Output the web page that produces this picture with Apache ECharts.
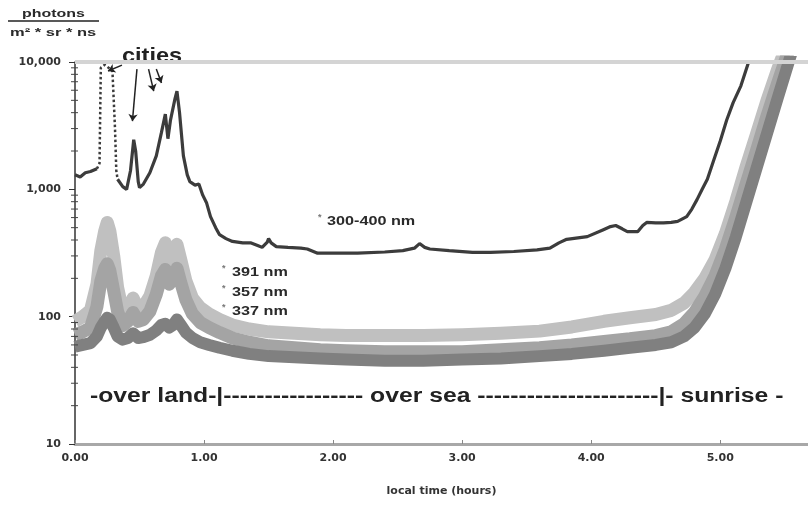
<!DOCTYPE html>
<html lang="en">
<head>
<meta charset="UTF-8">
<title>photons</title>
<script src="https://cdn.jsdelivr.net/npm/echarts@6/dist/echarts.min.js"></script>
<style>html,body{margin:0;padding:0;background:#fff;}</style>
</head>
<body>
<div id="main" style="width:808px;height:508px;"></div>
<script type="text/javascript">
    // time grid (hours) shared by the three narrow-band channels
    var tBand = [0.00, 0.06, 0.12, 0.17, 0.20, 0.23, 0.25, 0.27, 0.30, 0.33, 0.37, 0.41, 0.45, 0.49, 0.53, 0.58,
        0.63, 0.67, 0.70, 0.73, 0.76, 0.79, 0.82, 0.86, 0.91, 0.97, 1.04, 1.12, 1.22, 1.35, 1.50, 1.70, 1.90,
        2.10, 2.40, 2.70, 3.00, 3.30, 3.60, 3.85, 4.10, 4.30, 4.50, 4.62, 4.72, 4.80, 4.88, 4.96, 5.04, 5.12,
        5.20, 5.28, 5.36, 5.44, 5.52, 5.60];
    var v391 = [92, 100, 112, 180, 330, 470, 550, 470, 300, 170, 110, 115, 140, 115, 120, 145,
        210, 320, 380, 280, 300, 370, 280, 190, 140, 118, 105, 95, 86, 80, 76, 74, 72,
        71, 71, 71, 72, 74, 77, 83, 92, 98, 104, 112, 128, 155, 200, 280, 450, 800,
        1500, 2700, 4900, 8500, 14000, 25000];
    var v357 = [72, 76, 82, 120, 190, 240, 260, 230, 160, 110, 85, 92, 108, 92, 95, 110,
        150, 210, 235, 180, 200, 240, 185, 135, 105, 90, 82, 75, 68, 63, 59, 57, 55,
        54, 53, 53, 53, 55, 57, 60, 64, 67, 71, 76, 88, 108, 145, 210, 340, 600,
        1100, 2000, 3700, 6600, 11500, 20000];
    var v337 = [58, 60, 62, 70, 82, 92, 98, 95, 82, 70, 66, 68, 74, 68, 69, 72,
        78, 86, 88, 82, 86, 95, 86, 75, 68, 63, 60, 57, 54, 51, 49, 48, 47,
        46, 45, 45, 46, 47, 49, 51, 54, 57, 60, 63, 70, 82, 105, 150, 240, 420,
        780, 1450, 2700, 5000, 9200, 17000];

    // 300-400 nm broad band (null = gap where only sparse points exist)
    var tMain = [0.00, 0.04, 0.08, 0.12, 0.17, 0.25, 0.33, 0.37, 0.40, 0.43, 0.455, 0.47, 0.49, 0.50, 0.53, 0.58,
        0.63, 0.67, 0.70, 0.72, 0.74, 0.775, 0.79, 0.81, 0.84, 0.87, 0.89, 0.93, 0.96, 0.99, 1.02, 1.05,
        1.09, 1.12, 1.17, 1.22, 1.30, 1.36, 1.42, 1.45, 1.49, 1.50, 1.52, 1.56, 1.65, 1.75, 1.80, 1.88,
        2.00, 2.19, 2.40, 2.54, 2.63, 2.67, 2.71, 2.75, 2.90, 3.08, 3.22, 3.40, 3.58, 3.68, 3.75, 3.81,
        3.97, 4.09, 4.15, 4.19, 4.24, 4.28, 4.36, 4.40, 4.43, 4.50, 4.56, 4.62, 4.67, 4.74, 4.78, 4.82,
        4.86, 4.90, 4.95, 5.00, 5.05, 5.10, 5.16, 5.22];
    var vMain = [1300, 1250, 1350, 1380, 1450, null, 1200, 1050, 1000, 1400, 2450, 2000, 1150, 1030, 1100, 1350,
        1830, 2800, 3900, 2500, 3500, 5150, 5900, 4000, 1830, 1300, 1150, 1080, 1100, 900, 780, 610,
        500, 440, 410, 390, 380, 380, 360, 350, 385, 410, 380, 355, 350, 345, 340, 315,
        315, 315, 322, 330, 345, 375, 350, 340, 330, 320, 320, 325, 335, 345, 380, 405,
        425, 480, 510, 520, 490, 465, 465, 520, 550, 545, 545, 550, 560, 610, 700, 830,
        1000, 1200, 1700, 2400, 3500, 4800, 6500, 10000];
    var tGap = [0.17, 0.19, 0.20, 0.23, 0.26, 0.29, 0.31, 0.32, 0.33];
    var vGap = [1450, 1600, 9000, 9500, 9000, 8500, 3000, 1400, 1200];

    // log minor tick values on the y axis
    var yMinorTicks = [20, 30, 40, 50, 60, 70, 80, 90, 200, 300, 400, 500, 600, 700, 800, 900,
        2000, 3000, 4000, 5000, 6000, 7000, 8000, 9000];

    // arrows from the "cities" label: [t0, v0, t1, v1]
    var cityArrows = [
        [0.364, 9460, 0.256, 8500],
        [0.48, 8800, 0.445, 3430],
        [0.57, 8800, 0.61, 5900],
        [0.63, 8800, 0.67, 6840]
    ];

    function zip(t, v) {
        return t.map(function (x, i) { return [x, v[i]]; });
    }

    function txt(x, y, s, font, sx, color) {
        return {
            type: 'text', x: x, y: y, scaleX: sx || 1,
            style: {
                text: s, font: font, fill: color || '#2a2a2a',
                align: 'left', verticalAlign: 'middle',
                textAlign: 'left', textVerticalAlign: 'middle'
            }
        };
    }

    var small = 'bold 12px "Liberation Sans"';
    var chart = echarts.init(document.getElementById('main'));

    var option = {
        animation: false,
        backgroundColor: '#fff',
        grid: { left: 75, right: 0, top: 62, bottom: 64 },
        xAxis: {
            type: 'value', min: 0, max: 5.68, interval: 1,
            axisLine: { lineStyle: { color: '#a8a8a8', width: 3 } },
            axisTick: { inside: true, length: 4, lineStyle: { color: '#888' } },
            axisLabel: {
                formatter: function (v) { return v.toFixed(2); },
                showMaxLabel: false, margin: 9,
                fontFamily: 'DejaVu Sans', fontWeight: 'bold', fontSize: 11, color: '#333'
            },
            splitLine: { show: false },
            name: 'local time (hours)', nameLocation: 'middle', nameGap: 42,
            nameTextStyle: { fontFamily: 'DejaVu Sans', fontWeight: 'bold', fontSize: 11, color: '#333' }
        },
        yAxis: {
            type: 'log', logBase: 10, min: 10, max: 10000,
            axisLine: { show: true, lineStyle: { color: '#333', width: 1.5 } },
            axisTick: { show: true, length: 6, lineStyle: { color: '#333' } },
            axisLabel: {
                formatter: function (v) { return String(v).replace(/\B(?=(\d{3})+(?!\d))/g, ','); },
                margin: 14, fontFamily: 'DejaVu Sans', fontWeight: 'bold', fontSize: 11, color: '#333'
            },
            splitLine: { show: false }
        },
        series: [
            {
                name: '391 nm', type: 'line', data: zip(tBand, v391), symbol: 'none',
                lineStyle: { color: '#c0c0c0', width: 13, join: 'round' },
                markLine: {
                    silent: true, symbol: 'none', label: { show: false },
                    lineStyle: { color: '#d4d4d4', width: 4, type: 'solid' },
                    data: [{ yAxis: 10000 }]
                }
            },
            {
                name: '357 nm', type: 'line', data: zip(tBand, v357), symbol: 'none',
                lineStyle: { color: '#a4a4a4', width: 13, join: 'round' }
            },
            {
                name: '337 nm', type: 'line', data: zip(tBand, v337), symbol: 'none',
                lineStyle: { color: '#808080', width: 12, join: 'round' }
            },
            {
                name: '300-400 nm', type: 'line', data: zip(tMain, vMain), symbol: 'none',
                lineStyle: { color: '#3c3c3c', width: 3.2 },
                markLine: {
                    silent: true, symbol: ['none', 'arrow'], symbolSize: 7,
                    label: { show: false },
                    lineStyle: { color: '#222', width: 1.5, type: 'solid' },
                    data: cityArrows.map(function (a) {
                        return [{ coord: [a[0], a[1]] }, { coord: [a[2], a[3]] }];
                    })
                }
            },
            {
                name: '300-400 nm sparse', type: 'line', data: zip(tGap, vGap), symbol: 'none',
                lineStyle: { color: '#3c3c3c', width: 2.5, type: 'dotted' }
            },
            {
                name: 'minor ticks', type: 'custom', silent: true, clip: false, z: 10,
                data: yMinorTicks.map(function (v) { return [0, v]; }),
                renderItem: function (params, api) {
                    var p = api.coord([0, api.value(1)]);
                    return {
                        type: 'line',
                        shape: { x1: p[0] - 4, y1: p[1], x2: p[0] + 3, y2: p[1] },
                        style: { stroke: '#444', lineWidth: 1 }
                    };
                }
            }
        ],
        graphic: [
            txt(22, 14, 'photons', 'bold 11px "Liberation Sans"', 1.45),
            { type: 'line', shape: { x1: 8, y1: 21, x2: 99, y2: 21 }, style: { stroke: '#222', lineWidth: 1.5 } },
            txt(10, 33, 'm² * sr * ns', 'bold 11px "Liberation Sans"', 1.5),
            txt(122, 56, 'cities', 'bold 21px "Liberation Sans"', 1.12, '#222'),
            txt(318, 218, '*', 'bold 9px "Liberation Sans"', 1, '#777'),
            txt(327, 222, '300-400 nm', small, 1.35),
            txt(222, 269, '*', 'bold 9px "Liberation Sans"', 1, '#777'),
            txt(232, 273, '391 nm', small, 1.35),
            txt(222, 289, '*', 'bold 9px "Liberation Sans"', 1, '#777'),
            txt(232, 293, '357 nm', small, 1.35),
            txt(222, 308, '*', 'bold 9px "Liberation Sans"', 1, '#777'),
            txt(232, 312, '337 nm', small, 1.35),
            txt(90, 396, '-over land-|----------------- over sea ----------------------|- sunrise -',
                'bold 20px "Liberation Sans"', 1.236, '#222')
        ]
    };

    chart.setOption(option);
</script>
</body>
</html>
